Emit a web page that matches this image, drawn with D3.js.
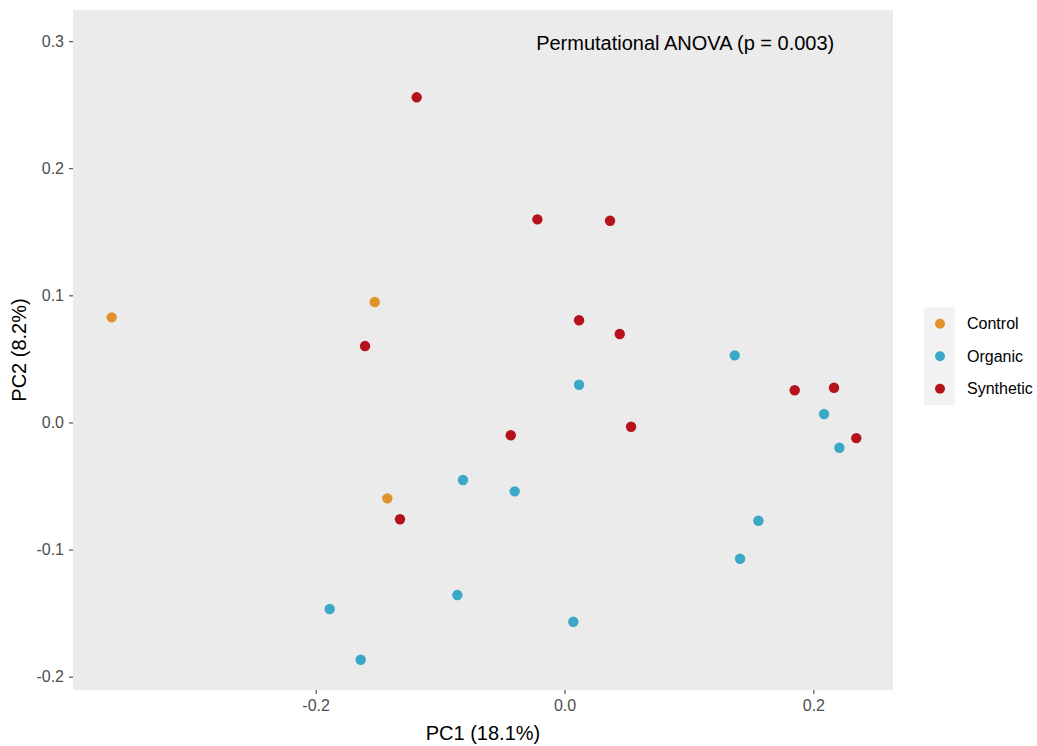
<!DOCTYPE html>
<html>
<head>
<meta charset="utf-8">
<script src="https://cdn.jsdelivr.net/npm/d3@7"></script>
<style>
  body {margin: 0; background: #fff;}
  text {font-family: "Liberation Sans", Arial, sans-serif;}
</style>
</head>
<body>
<div class="chartWrap"></div>
<script>
//Data (PC1, PC2)
const groups = ["Control", "Organic", "Synthetic"];
const groupColors = ["#E2922A", "#3BA8C8", "#B5121B"];

const controlPC1 = [-0.3639, -0.1525, -0.1424];
const controlPC2 = [0.0827, 0.0948, -0.0597];

const organicPC1 = [-0.0816, -0.0861, -0.1887, -0.1638, 0.0117, -0.0400, 0.1368, 0.2086, 0.2209, 0.1558, 0.1411, 0.0071];
const organicPC2 = [-0.0453, -0.1358, -0.1468, -0.1867, 0.0297, -0.0542, 0.0528, 0.0066, -0.0199, -0.0773, -0.1072, -0.1568];

const syntheticPC1 = [-0.1188, -0.1603, -0.1322, -0.0218, 0.0366, 0.0117, 0.0444, -0.0432, 0.0535, 0.1850, 0.2166, 0.2345];
const syntheticPC2 = [0.2558, 0.0601, -0.0762, 0.1598, 0.1587, 0.0804, 0.0696, -0.0101, -0.0034, 0.0253, 0.0273, -0.0123];

const xTicks = [-0.2, 0.0, 0.2];
const yTicks = [-0.2, -0.1, 0.0, 0.1, 0.2, 0.3];
const xTitle = "PC1 (18.1%)", yTitle = "PC2 (8.2%)";
const note = "Permutational ANOVA (p = 0.003)", noteX = 0.097, noteY = 0.3;

//Variables
const w = 1037, h = 746,
  panel = {left: 73, right: 893, top: 10, bottom: 690};

let points = [];
[[controlPC1, controlPC2], [organicPC1, organicPC2], [syntheticPC1, syntheticPC2]].forEach(function(s, i) {
  s[0].forEach(function(v, j) {points.push({group: groups[i], x: v, y: s[1][j]});});
});

const x = d3.scaleLinear().domain([-0.395, 0.264]).range([panel.left, panel.right]);
const y = d3.scaleLinear().domain([-0.2105, 0.3245]).range([panel.bottom, panel.top]);
const color = d3.scaleOrdinal().domain(groups).range(groupColors);
const fmt = function(d) {return d.toFixed(1);}; //plain hyphen minus, like R

let chart = d3.select(".chartWrap").append("svg").attr("width", w).attr("height", h);

//Panel
chart.append("rect").attr("x", panel.left).attr("y", panel.top)
  .attr("width", panel.right - panel.left).attr("height", panel.bottom - panel.top)
  .attr("fill", "#EBEBEB");

//Axes
let xAxis = chart.append("g").attr("transform", "translate(0," + panel.bottom + ")")
  .call(d3.axisBottom(x).tickValues(xTicks).tickFormat(fmt).tickSize(4).tickPadding(6));
let yAxis = chart.append("g").attr("transform", "translate(" + panel.left + ",0)")
  .call(d3.axisLeft(y).tickValues(yTicks).tickFormat(fmt).tickSize(4).tickPadding(5));
[xAxis, yAxis].forEach(function(a) {
  a.select(".domain").remove();
  a.selectAll(".tick line").attr("stroke", "#333333");
  a.selectAll(".tick text").attr("fill", "#4D4D4D").attr("font-size", 16)
    .style("font-family", '"Liberation Sans", Arial, sans-serif');
});

//Axis titles
chart.append("text").text(xTitle).attr("x", (panel.left + panel.right) / 2).attr("y", 740)
  .attr("text-anchor", "middle").attr("font-size", 20).attr("fill", "#000");
chart.append("text").text(yTitle)
  .attr("transform", "translate(26," + (panel.top + panel.bottom) / 2 + ") rotate(-90)")
  .attr("text-anchor", "middle").attr("font-size", 20).attr("fill", "#000");

//Annotation
chart.append("text").text(note).attr("x", x(noteX)).attr("y", y(noteY) + 2)
  .attr("dy", "0.35em").attr("text-anchor", "middle").attr("font-size", 20).attr("fill", "#000");

//Points
chart.selectAll(".pt").data(points).enter().append("circle")
  .attr("class", "pt")
  .attr("cx", function(d) {return x(d.x);})
  .attr("cy", function(d) {return y(d.y);})
  .attr("r", 5.2)
  .attr("fill", function(d) {return color(d.group);});

//Legend
const key = 32.5, legTop = 307.5, legLeft = 924;
chart.append("rect").attr("x", legLeft).attr("y", legTop).attr("width", 31).attr("height", key * groups.length)
  .attr("fill", "#F2F2F2");
let leg = chart.selectAll(".leg").data(groups).enter().append("g").attr("class", "leg")
  .attr("transform", function(d, i) {return "translate(" + legLeft + "," + (legTop + key * (i + 0.5)) + ")";});
leg.append("circle").attr("cx", 16).attr("r", 5).attr("fill", function(d) {return color(d);});
leg.append("text").text(function(d) {return d;}).attr("x", 43).attr("dy", "0.35em")
  .attr("font-size", 16).attr("fill", "#000");
</script>
</body>
</html>
